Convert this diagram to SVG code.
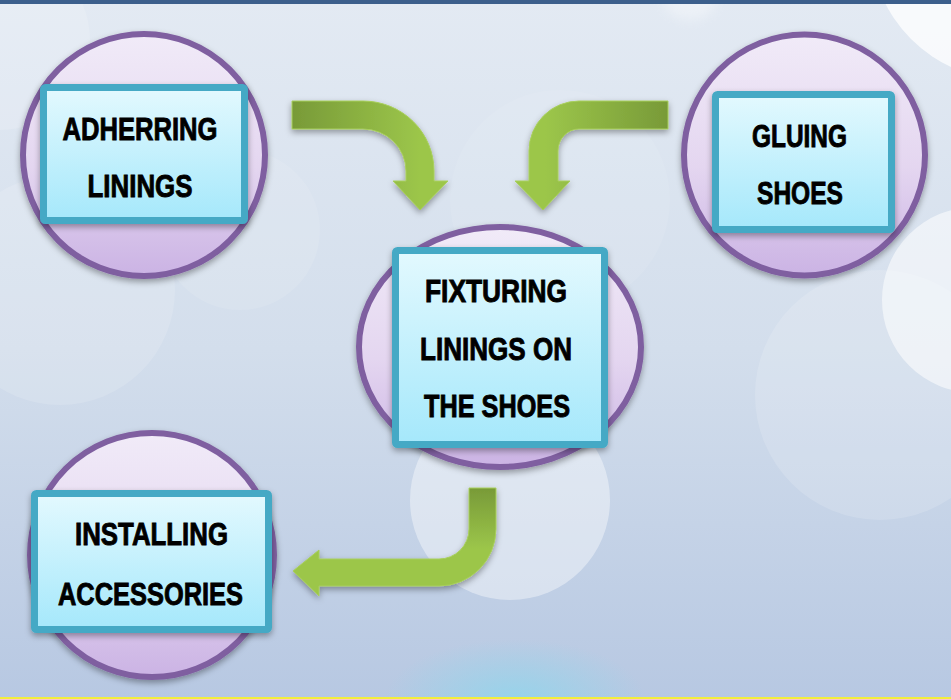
<svg xmlns="http://www.w3.org/2000/svg" width="951" height="699" viewBox="0 0 951 699">
<defs>
<linearGradient id="bg" x1="0" y1="0" x2="0" y2="1">
<stop offset="0" stop-color="#e3eaf3"/>
<stop offset="0.5" stop-color="#d3deec"/>
<stop offset="1" stop-color="#b7c8e2"/>
</linearGradient>
<radialGradient id="cyan" cx="0.5" cy="0.5" r="0.5">
<stop offset="0" stop-color="#8fd6ec" stop-opacity="0.8"/>
<stop offset="1" stop-color="#8fd6ec" stop-opacity="0"/>
</radialGradient>
<linearGradient id="circ" x1="0" y1="0" x2="0" y2="1">
<stop offset="0" stop-color="#f1ebf8"/>
<stop offset="0.55" stop-color="#e4d6f0"/>
<stop offset="1" stop-color="#cbb3e4"/>
</linearGradient>
<linearGradient id="box" x1="0" y1="0" x2="0" y2="1">
<stop offset="0" stop-color="#e3f9fe"/>
<stop offset="1" stop-color="#a5e8fb"/>
</linearGradient>
<linearGradient id="g1" gradientUnits="userSpaceOnUse" x1="292" y1="0" x2="420" y2="0">
<stop offset="0" stop-color="#789a38"/>
<stop offset="1" stop-color="#9cc64a"/>
</linearGradient>
<linearGradient id="g2" gradientUnits="userSpaceOnUse" x1="668" y1="0" x2="545" y2="0">
<stop offset="0" stop-color="#789a38"/>
<stop offset="1" stop-color="#9cc64a"/>
</linearGradient>
<linearGradient id="g3" gradientUnits="userSpaceOnUse" x1="0" y1="488" x2="0" y2="590">
<stop offset="0" stop-color="#789a38"/>
<stop offset="0.6" stop-color="#9cc64a"/>
<stop offset="1" stop-color="#9cc64a"/>
</linearGradient>
<filter id="sh" x="-20%" y="-20%" width="140%" height="140%">
<feDropShadow dx="0" dy="3" stdDeviation="3" flood-color="#000" flood-opacity="0.35"/>
</filter>
<filter id="blur" x="-50%" y="-50%" width="200%" height="200%">
<feGaussianBlur stdDeviation="6"/>
</filter>
</defs>
<style>
.circ{fill:url(#circ);stroke:#7f5fa0;stroke-width:6;filter:url(#sh)}
.box{fill:url(#box);stroke:#45a9c5;stroke-width:7;filter:url(#sh)}
.lbl{font-family:"Liberation Sans Narrow","Liberation Sans",Arial,sans-serif;font-weight:bold;font-size:32px;fill:#000;stroke:#000;stroke-width:0.9;text-anchor:middle}
.arrow{stroke:#a8cf5c;stroke-width:1;filter:url(#sh)}
.bokeh{fill:#ffffff}
</style>

<!-- background -->
<rect x="0" y="0" width="951" height="699" fill="url(#bg)"/>
<g class="bokeh">
<circle cx="1010" cy="-60" r="140" opacity="0.75"/>
<circle cx="690" cy="-10" r="30" opacity="0.35" filter="url(#blur)"/>
<circle cx="975" cy="300" r="93" opacity="0.55"/>
<circle cx="880" cy="395" r="125" opacity="0.15"/>
<circle cx="60" cy="290" r="115" opacity="0.14"/>
<circle cx="240" cy="230" r="80" opacity="0.1"/>
<circle cx="510" cy="500" r="100" opacity="0.4"/>
<circle cx="0" cy="40" r="90" opacity="0.15"/>
<circle cx="560" cy="200" r="110" opacity="0.08"/>
</g>
<ellipse cx="515" cy="699" rx="130" ry="60" fill="url(#cyan)"/>
<rect x="0" y="0" width="951" height="4" fill="#3c5f8c"/>
<rect x="0" y="697" width="951" height="2" fill="#f2ee3a"/>

<!-- nodes -->
<g id="node-adherring">
<circle class="circ" cx="144" cy="155" r="121"/>
<rect class="box" x="43.5" y="87.5" width="201" height="133" rx="2"/>
<text class="lbl" x="140" y="140" textLength="155" lengthAdjust="spacingAndGlyphs">ADHERRING</text>
<text class="lbl" x="140" y="197" textLength="105" lengthAdjust="spacingAndGlyphs">LININGS</text>
</g>
<g id="node-gluing">
<circle class="circ" cx="804.5" cy="155" r="120.5"/>
<rect class="box" x="715.5" y="94.5" width="176" height="135" rx="2"/>
<text class="lbl" x="799.5" y="147" textLength="95" lengthAdjust="spacingAndGlyphs">GLUING</text>
<text class="lbl" x="800" y="204" textLength="86" lengthAdjust="spacingAndGlyphs">SHOES</text>
</g>
<g id="node-fixturing">
<ellipse class="circ" cx="500" cy="347" rx="141" ry="120"/>
<rect class="box" x="395.5" y="250.5" width="209" height="194" rx="2"/>
<text class="lbl" x="496" y="302" textLength="142" lengthAdjust="spacingAndGlyphs">FIXTURING</text>
<text class="lbl" x="496" y="360" textLength="152" lengthAdjust="spacingAndGlyphs">LININGS ON</text>
<text class="lbl" x="497" y="417" textLength="146" lengthAdjust="spacingAndGlyphs">THE SHOES</text>
</g>
<g id="node-installing">
<circle class="circ" cx="152" cy="555" r="122"/>
<rect class="box" x="34.5" y="493.5" width="234" height="136" rx="2"/>
<text class="lbl" x="151.5" y="545" textLength="153" lengthAdjust="spacingAndGlyphs">INSTALLING</text>
<text class="lbl" x="150.5" y="605" textLength="185" lengthAdjust="spacingAndGlyphs">ACCESSORIES</text>
</g>

<!-- connectors -->
<g id="connectors">
<path class="arrow" fill="url(#g1)" d="M292,101 L363,101 A71,70 0 0 1 434,171 L434,181 L448,181 L420,210 L393,181 L406,181 L406,171 A43,42 0 0 0 363,129 L292,129 Z"/>
<path class="arrow" fill="url(#g2)" d="M668,101 L579,101 A50,50 0 0 0 529,151 L529,181 L515,181 L543,210 L570,181 L558,181 L558,151 A21,22 0 0 1 579,129 L668,129 Z"/>
<path class="arrow" fill="url(#g3)" d="M469,488 L496,488 L496,529 A57,57 0 0 1 439,586 L319,586 L319,596 L293,571 L319,550 L319,559 L439,559 A30,30 0 0 0 469,529 Z"/>
</g>
</svg>
